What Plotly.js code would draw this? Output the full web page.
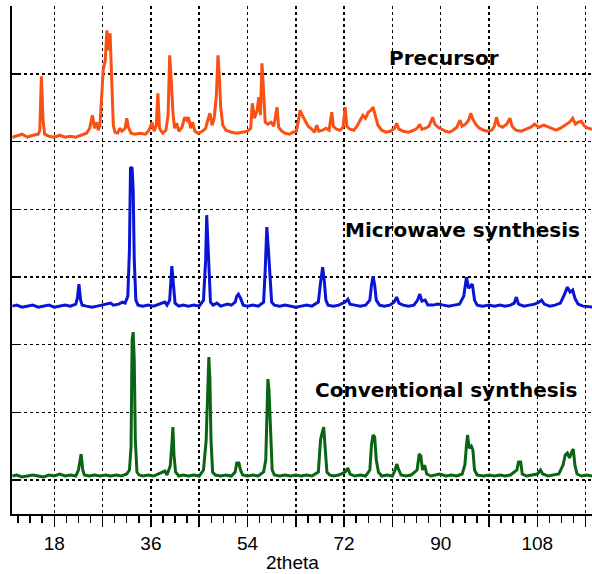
<!DOCTYPE html>
<html>
<head>
<meta charset="utf-8">
<script src="https://cdn.plot.ly/plotly-3.0.1.min.js"></script>
<style>html,body{margin:0;padding:0;background:#fff;}#chart{width:592px;height:574px;}</style>
</head>
<body>
<div id="chart"></div>
<script>
// ---- data (2theta in degrees, intensity in a.u. above each pattern's own baseline) ----
var seriesNames = ["Precursor", "Microwave synthesis", "Conventional synthesis"];

var precursorTheta = [10.2,11,12,13,14,15,15.3,15.6,15.9,16.2,17,18,19,20,21,22,23,24,24.6,25.1,25.5,25.9,26.2,26.5,26.9,27.1,27.5,27.8,28.1,28.4,28.7,29.0,29.3,29.8,30.2,30.6,31.2,31.5,31.8,32.3,33,34,35,35.5,35.8,36.2,36.6,37.0,37.3,37.6,38.2,38.8,39.2,39.5,39.8,40.1,40.4,40.8,41.2,41.8,42.3,42.7,43.0,43.4,43.8,44.2,44.8,45.3,45.8,46.2,46.6,47.0,47.4,47.8,48.2,48.5,48.8,49.0,49.4,50,51,52,53,54,54.6,54.9,55.3,55.8,56.1,56.4,56.7,57.0,57.3,57.8,58.4,58.9,59.3,59.5,59.8,60.4,61,61.8,62.5,63.1,63.5,63.8,64.2,64.7,65.3,66,66.5,66.9,67.3,68,68.6,69.2,69.7,70.0,70.6,71.2,71.8,72.2,72.5,73.1,73.8,74.4,75.0,75.5,76.0,76.5,77.0,77.4,77.8,78.3,79.0,79.8,80.6,81.4,81.8,82.2,83,84,85,85.6,86.1,86.5,87.2,87.8,88.2,88.5,88.9,89.5,90.2,90.9,91.6,92.3,93.0,93.6,94.0,94.6,95.2,95.6,96.0,96.5,97.2,98,98.8,99.5,100.0,100.4,100.8,101.5,102.3,102.9,103.3,104,105,106,106.8,107.5,108.3,109.2,110,110.8,111.5,112.3,113.2,114.0,114.6,115.1,115.6,116.2,116.8,117.5,118.2];
var precursorI = [1,2,4,1,3,4,8,62,18,4,2,1,3,1,2,1,3,5,10,23,10,16,8,13,48,68,78,108,88,105,58,13,6,5,10,7,10,20,11,5,4,5,4,7,10,16,7,13,45,10,5,8,23,83,58,26,10,15,7,11,21,18,21,10,16,7,5,6,8,10,18,25,13,20,43,83,58,31,13,8,6,5,6,7,10,35,20,28,41,23,75,38,16,14,16,12,23,31,11,7,5,4,6,7,18,28,23,18,12,9,6,13,7,8,10,8,26,12,9,8,11,31,12,9,8,12,18,23,20,26,28,31,23,13,8,6,7,10,15,9,7,6,8,10,14,9,10,12,17,21,14,11,9,7,6,8,11,18,12,14,18,25,19,14,10,8,7,8,12,21,13,11,14,20,12,8,7,9,11,14,11,13,11,9,8,10,13,16,20,14,16,17,12,10,9];

var microwaveTheta = [10.2,11,12,13,14,15,16,17,18,19,20,21,22,22.3,22.6,22.9,23.2,24,25,26,27,28,28.5,29,30,30.7,31.2,31.7,32.0,32.2,32.5,32.7,32.9,33.2,33.6,34.5,35.5,36.5,37.5,38,38.6,39.0,39.5,39.9,40.2,40.5,41.2,42,43,44,45,45.8,46.2,46.4,46.6,46.8,47.1,47.6,48.3,49,49.6,50.3,51,51.7,52.0,52.3,52.7,53.2,54,55,56,57.0,57.3,57.6,57.9,58.2,58.5,59,60,61,62,63,64,65,66,67.2,67.6,68.0,68.3,68.6,69,70,71,72.2,72.7,73.1,74,75,76,76.8,77.1,77.4,77.7,78.0,78.6,79.5,80.5,81.3,81.8,82.2,83,84,85,85.7,86.1,86.5,87.1,87.6,88.5,89.5,90.5,91.5,92.5,93.5,94.3,94.8,95.2,95.6,95.9,96.3,96.8,97.8,99,100,101,102,103,103.7,104.1,104.5,105.5,106.5,107.5,108.3,108.8,109.3,110.3,111.3,112.3,113.0,113.6,114.1,114.6,115.0,115.6,116.5,117.5,118.2];
var microwaveI = [2,3,1,2,3,1,2,3,1,2,3,2,4,10,24,8,3,2,1,2,3,4,5,3,4,6,5,12,58,141,140,118,48,8,3,2,3,2,4,5,6,3,8,42,18,5,2,3,2,3,2,8,48,93,68,35,6,3,5,2,3,4,3,6,12,14,10,3,2,3,2,6,38,81,58,28,6,3,2,3,2,1,2,3,2,6,25,41,28,8,3,2,3,6,9,4,3,2,3,8,23,32,23,8,3,2,3,6,11,5,3,2,3,8,14,7,8,3,3,4,3,2,3,4,12,31,20,22,24,8,3,2,3,2,3,2,3,5,11,4,2,3,4,6,8,4,2,3,5,13,21,16,18,10,4,2,1,1];

var conventionalTheta = [10.2,11,12,13,14,15,16,17,18,19,20,21,22,22.5,22.8,23.0,23.3,23.6,24.5,25.5,26.5,27.5,28.5,29.5,30.5,31.5,32.0,32.3,32.5,32.7,32.9,33.1,33.4,33.8,34.5,35.5,36.5,37.5,38,38.6,39.0,39.6,39.9,40.1,40.3,40.6,41.2,42,43,44,45,45.8,46.3,46.6,46.8,47.0,47.2,47.5,48,49,50,51,51.7,52.0,52.4,52.7,53.1,54,55,56,57.0,57.4,57.6,57.8,58.0,58.3,58.6,59,60,61,62,63,64,65,66,67.2,67.6,67.9,68.2,68.5,68.8,69.3,70,71,72.2,72.7,73.1,74,75,76,76.8,77.1,77.4,77.7,78.0,78.4,79,80,81,81.5,81.8,82.2,82.6,83.5,84.5,85.6,86.0,86.3,86.6,87.0,87.4,88.2,89.2,89.8,90.4,91,92,93,94,94.5,94.8,95.0,95.3,95.7,96.0,96.3,96.8,98,99,100,101,102,103,104.2,104.5,104.9,105.2,106,107,108,108.6,109,110,111,112,112.8,113.2,113.6,114.0,114.4,114.7,115.0,115.4,116.2,117.2,118.2];
var conventionalI = [2,3,1,2,3,2,1,3,2,4,2,3,2,8,16,24,8,3,2,3,2,3,2,3,2,4,8,31,138,146,118,38,6,3,2,3,2,4,5,7,3,12,33,51,23,6,2,3,2,3,2,8,38,78,121,98,38,6,3,2,3,2,6,15,15,8,3,2,3,2,6,18,78,99,88,38,8,3,2,3,2,3,2,3,2,6,38,45,51,28,6,3,2,3,6,10,4,2,3,2,8,33,43,41,18,6,2,3,2,8,14,8,3,2,3,8,24,22,8,13,4,2,3,4,3,2,3,2,4,13,33,43,30,32,28,8,3,2,3,2,3,2,3,8,16,16,4,2,3,4,8,4,2,3,4,13,23,25,20,26,29,13,4,2,3,2];

var tickValues = [18,27,36,45,54,63,72,81,90,99,108,117];
var tickLabels = ["18","","36","","54","","72","","90","","108",""];

// ---- presentation ----
var offsets = [376, 206, 36];        // vertical stacking of the patterns
var colors = ["#fa5014", "#0a14d6", "#0b6414"];
var thetas = [precursorTheta, microwaveTheta, conventionalTheta];
var intens = [precursorI, microwaveI, conventionalI];

var traces = thetas.map(function (th, k) {
  return {
    type: "scatter", mode: "lines", name: seriesNames[k],
    x: th,
    y: intens[k].map(function (v) { return v + offsets[k]; }),
    line: {color: colors[k], width: 3},
    hoverinfo: "skip"
  };
});

var labelFont = {family: "DejaVu Sans, Verdana, sans-serif", size: 20, color: "#000", weight: "bold"};
var layout = {
  width: 592, height: 574,
  margin: {l: 12, r: 0, t: 6, b: 60},
  paper_bgcolor: "#fff", plot_bgcolor: "#fff",
  showlegend: false,
  xaxis: {
    range: [10.12, 118.19],
    tickmode: "array", tickvals: tickValues, ticktext: tickLabels,
    ticks: "outside", ticklen: 11, tickwidth: 1.5, tickcolor: "#000",
    minor: {dtick: 2.25, tick0: 0, ticks: "outside", ticklen: 7, tickwidth: 1.5, tickcolor: "#000", showgrid: false},
    showline: true, linecolor: "#000", linewidth: 2,
    showgrid: true, gridcolor: "#000", gridwidth: 1.5, griddash: "3px,3px",
    zeroline: false,
    tickfont: {family: "Liberation Sans, Arial, sans-serif", size: 19, color: "#000"}
  },
  yaxis: {
    range: [0, 508.3],
    tickmode: "linear", tick0: 34, dtick: 67.7,
    ticks: "inside", ticklen: 9, tickwidth: 1.5, tickcolor: "#000",
    showticklabels: false,
    showline: true, linecolor: "#000", linewidth: 2,
    showgrid: true, gridcolor: "#000", gridwidth: 1.5, griddash: "3px,3px",
    zeroline: false
  },
  annotations: [
    {text: seriesNames[0], xref: "paper", yref: "paper", x: 0.6466, y: 0.8976, xanchor: "left", yanchor: "middle", showarrow: false, font: labelFont},
    {text: seriesNames[1], xref: "paper", yref: "paper", x: 0.5707, y: 0.5591, xanchor: "left", yanchor: "middle", showarrow: false, font: labelFont},
    {text: seriesNames[2], xref: "paper", yref: "paper", x: 0.519, y: 0.2441, xanchor: "left", yanchor: "middle", showarrow: false, font: labelFont},
    {text: "2theta", xref: "paper", yref: "paper", x: 0.484, y: -0.096, xanchor: "center", yanchor: "middle", showarrow: false,
     font: {family: "Liberation Sans, Arial, sans-serif", size: 19, color: "#000"}}
  ]
};

Plotly.newPlot("chart", traces, layout, {displayModeBar: false, staticPlot: true});
</script>
</body>
</html>
